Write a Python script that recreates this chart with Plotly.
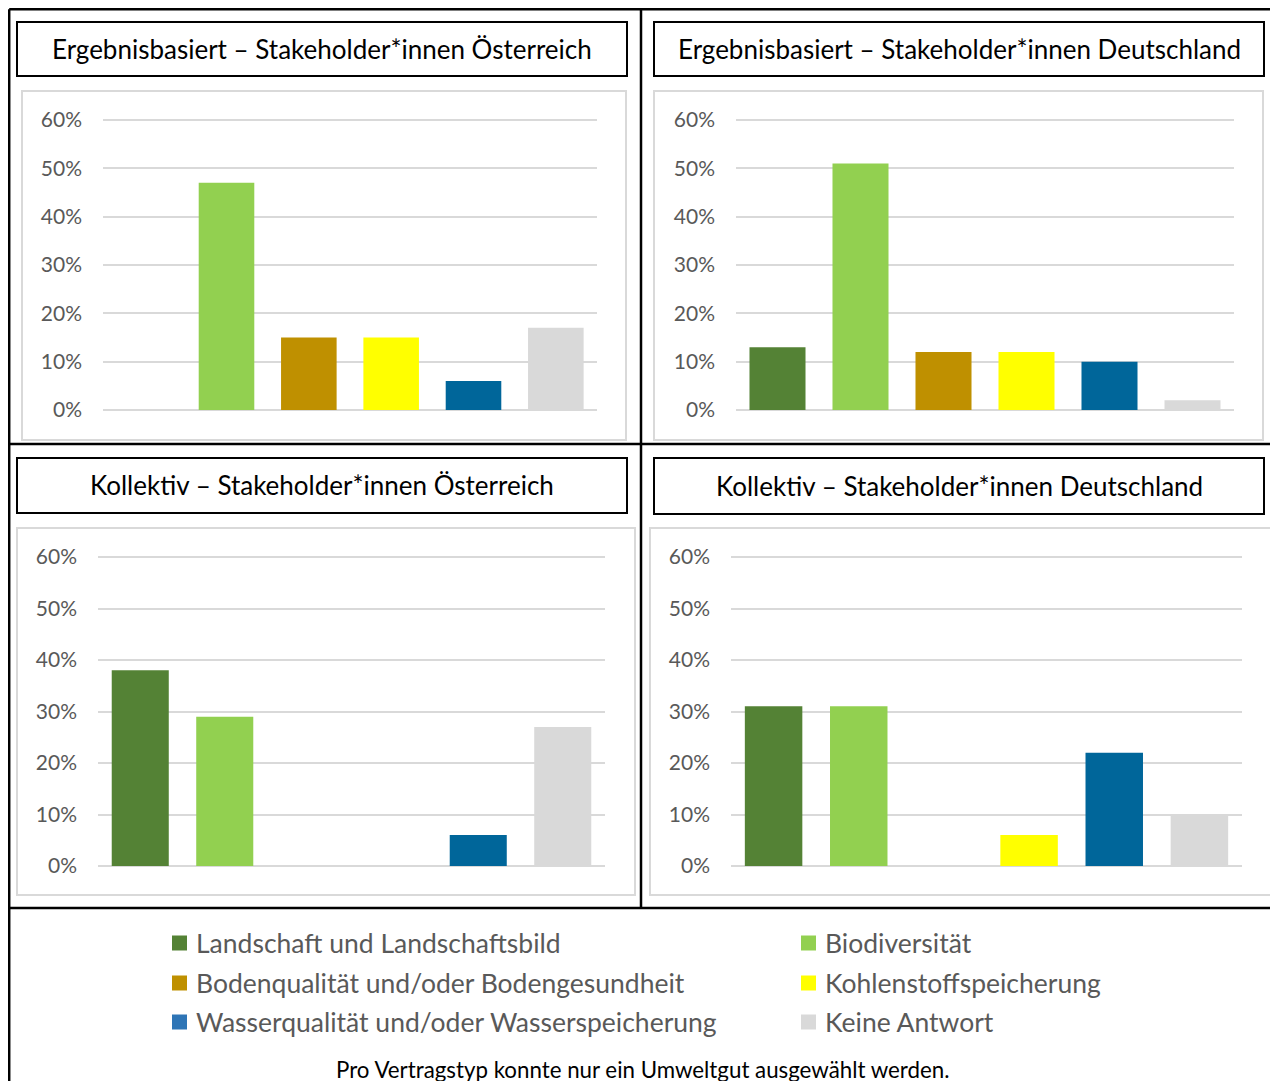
import plotly.graph_objects as go

# ---------------- data ----------------
categories = [
    "Landschaft und Landschaftsbild",
    "Biodiversität",
    "Bodenqualität und/oder Bodengesundheit",
    "Kohlenstoffspeicherung",
    "Wasserqualität und/oder Wasserspeicherung",
    "Keine Antwort",
]
panel_titles = [
    "Ergebnisbasiert – Stakeholder*innen Österreich",
    "Ergebnisbasiert – Stakeholder*innen Deutschland",
    "Kollektiv – Stakeholder*innen Österreich",
    "Kollektiv – Stakeholder*innen Deutschland",
]
erg_at = [0, 47, 15, 15, 6, 17]
erg_de = [13, 51, 12, 12, 10, 2]
kol_at = [38, 29, 0, 0, 6, 27]
kol_de = [31, 31, 0, 6, 22, 10]
tick_values = [0, 10, 20, 30, 40, 50, 60]
tick_labels = ["0%", "10%", "20%", "30%", "40%", "50%", "60%"]
footnote = "Pro Vertragstyp konnte nur ein Umweltgut ausgewählt werden."

# ---------------- style ----------------
bar_colors = ["#548235", "#92D050", "#BF9000", "#FFFF00", "#00669A", "#D9D9D9"]
legend_colors = ["#548235", "#92D050", "#BF9000", "#FFFF00", "#2E75B6", "#D9D9D9"]
FONT = "Lato, 'Open Sans', sans-serif"
W, H = 1278, 1081
OX, OY = 8, 8          # page (body) margin offset of the figure in the browser
Y_MAX = 60             # top tick
Y_TOP = 60.6           # range top a bit above top tick so its gridline is drawn


def px(x):
    return max(x - OX, 1.2) / W


def py(y):
    return 1 - max(y - OY, 1.2) / H


# panel geometry in page pixels: plot area (x0, x1, y_of_60%, y_of_0%), title box, chart box
panels = [
    dict(plot=(103, 597, 120, 410), title=(17, 627, 22, 76), box=(22, 626, 91, 440)),
    dict(plot=(736, 1234, 120, 410), title=(654, 1264, 22, 76), box=(654, 1263, 91, 440)),
    dict(plot=(98, 605, 557, 866), title=(17, 627, 458, 513), box=(17, 635, 528, 895)),
    dict(plot=(731, 1242, 557, 866), title=(654, 1264, 458, 514), box=(650, 1272, 528, 895)),
]
series = [erg_at, erg_de, kol_at, kol_de]

fig = go.Figure()
shapes = []
annotations = []

for i, (p, vals) in enumerate(zip(panels, series)):
    n = i + 1
    xa = "x" if n == 1 else f"x{n}"
    ya = "y" if n == 1 else f"y{n}"
    for cat, v, col in zip(categories, vals, bar_colors):
        fig.add_trace(go.Bar(
            x=[cat], y=[v], name=cat, marker=dict(color=col, line=dict(width=0)),
            xaxis=xa, yaxis=ya, showlegend=False,
            hovertemplate="%{x}: %{y}%<extra></extra>",
        ))
    x0, x1, yt, yb = p["plot"]
    y_dom_top = yb - (yb - yt) * Y_TOP / Y_MAX
    xkey = "xaxis" if n == 1 else f"xaxis{n}"
    ykey = "yaxis" if n == 1 else f"yaxis{n}"
    fig.layout[xkey] = dict(
        domain=[px(x0), px(x1)], anchor=ya, showticklabels=False, showgrid=False,
        zeroline=False, showline=False, ticks="", categoryorder="array",
        categoryarray=categories, fixedrange=True, automargin=False,
    )
    fig.layout[ykey] = dict(
        domain=[py(yb), py(y_dom_top)], anchor=xa, range=[0, Y_TOP],
        tickvals=tick_values, ticktext=tick_labels,
        showgrid=True, gridcolor="#D9D9D9", gridwidth=2,
        zeroline=True, zerolinecolor="#D9D9D9", zerolinewidth=2,
        showline=False, ticks="", ticklabelstandoff=20, automargin=False,
        tickfont=dict(family=FONT, size=21, color="#595959"), fixedrange=True,
    )
    # chart area border
    bx0, bx1, by0, by1 = p["box"]
    shapes.append(dict(type="rect", xref="paper", yref="paper",
                       x0=px(bx0), x1=px(bx1), y0=py(by1), y1=py(by0),
                       line=dict(color="#D9D9D9", width=2), layer="below"))
    # title box
    tx0, tx1, ty0, ty1 = p["title"]
    shapes.append(dict(type="rect", xref="paper", yref="paper",
                       x0=px(tx0), x1=px(tx1), y0=py(ty1), y1=py(ty0),
                       line=dict(color="#000000", width=2)))
    annotations.append(dict(text=panel_titles[i], xref="paper", yref="paper",
                            x=px((tx0 + tx1) / 2), y=py((ty0 + ty1) / 2),
                            xanchor="center", yanchor="middle", showarrow=False,
                            font=dict(family=FONT, size=26, color="#000000")))

# table lines
LW = 2.5
table_lines = [
    (7, 7, 7, 1100),        # left
    (1276, 7, 1276, 1100),  # right
    (7, 7, 1276, 7),        # top
    (641, 7, 641, 908),     # middle vertical
    (7, 444, 1276, 444),    # middle horizontal
    (7, 908, 1276, 908),    # lower horizontal
]
for xa0, ya0, xa1, ya1 in table_lines:
    shapes.append(dict(type="line", xref="paper", yref="paper",
                       x0=px(xa0), y0=py(ya0), x1=px(xa1), y1=py(ya1),
                       line=dict(color="#000000", width=LW)))

# legend (two columns, three rows)
leg_cols = [172, 801]
leg_rows = [943, 983, 1022]
for k, (cat, col) in enumerate(zip(categories, legend_colors)):
    cx = leg_cols[k % 2]
    cy = leg_rows[k // 2]
    shapes.append(dict(type="rect", xref="paper", yref="paper",
                       x0=px(cx), x1=px(cx + 15), y0=py(cy + 7.5), y1=py(cy - 7.5),
                       line=dict(width=0), fillcolor=col))
    annotations.append(dict(text=cat, xref="paper", yref="paper",
                            x=px(cx + 22), y=py(cy), xanchor="left", yanchor="middle",
                            showarrow=False,
                            font=dict(family=FONT, size=26.5, color="#595959")))

annotations.append(dict(text=footnote, xref="paper", yref="paper",
                        x=px(642), y=py(1069), xanchor="center", yanchor="middle",
                        showarrow=False, font=dict(family=FONT, size=22.3, color="#000000")))

fig.update_layout(
    width=W, height=H, margin=dict(l=0, r=0, t=0, b=0, autoexpand=False),
    paper_bgcolor="#FFFFFF", plot_bgcolor="rgba(0,0,0,0)",
    barmode="overlay", bargap=0.325, showlegend=False,
    shapes=shapes, annotations=annotations,
    font=dict(family=FONT),
)

fig.write_html("out.html")
